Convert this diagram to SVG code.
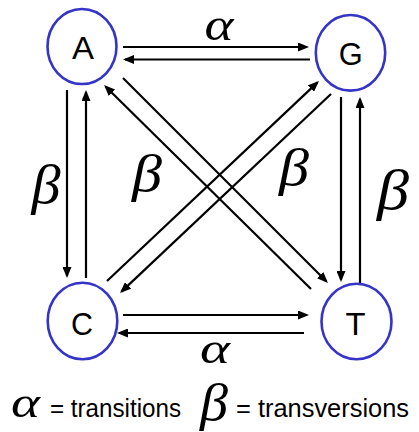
<svg xmlns="http://www.w3.org/2000/svg" width="419" height="432" viewBox="0 0 419 432">
<style>
.node{fill:#fff;stroke:#3434c8;stroke-width:2.6}
.lbl{font-family:"Liberation Sans",Arial,sans-serif;font-size:32px;fill:#000;text-anchor:middle}
.gk{font-family:"Liberation Serif","Times New Roman",serif;font-style:italic;fill:#000;text-anchor:middle}
.leg{font-family:"Liberation Sans",Arial,sans-serif;font-size:26px;fill:#000}
.c line{stroke:#000;stroke-width:2.2;fill:none}
.c line.a{marker-end:url(#ah)}
</style>
<defs>
<marker id="ah" markerUnits="userSpaceOnUse" markerWidth="11" markerHeight="9" refX="9" refY="4.5" orient="auto">
<path d="M0,0 L11,4.5 L0,9 z" fill="#000"/>
</marker>
</defs>
<rect width="419" height="432" fill="#fff"/>
<g class="c" id="connectors">
<line class="a" x1="123" y1="47" x2="307" y2="47"/>
<line class="a" x1="310" y1="59.5" x2="125" y2="59.5"/>
<line class="a" x1="67" y1="90" x2="67" y2="276"/>
<line class="a" x1="86" y1="278" x2="86" y2="92"/>
<line class="a" x1="341" y1="97" x2="341" y2="280"/>
<line class="a" x1="360" y1="284" x2="360" y2="99"/>
<line class="a" x1="123" y1="315" x2="307" y2="315"/>
<line class="a" x1="304" y1="333" x2="119" y2="333"/>
<line class="a" x1="123" y1="78" x2="326.5" y2="281.5"/>
<line class="a" x1="311" y1="289" x2="105.5" y2="86.5"/>
<line class="a" x1="107" y1="281" x2="317.5" y2="82.4"/>
<line class="a" x1="331" y1="94" x2="121.5" y2="291.6"/>
</g>
<g id="A"><ellipse class="node" cx="82" cy="46.5" rx="34.5" ry="37.5"/><text class="lbl" x="83" y="59" textLength="22" lengthAdjust="spacingAndGlyphs">A</text></g>
<g id="G"><ellipse class="node" cx="350.5" cy="52.8" rx="34.7" ry="37.8"/><text class="lbl" x="350.7" y="65" textLength="24" lengthAdjust="spacingAndGlyphs">G</text></g>
<g id="C"><ellipse class="node" cx="82.5" cy="321" rx="34.8" ry="38.3"/><text class="lbl" x="82" y="334.5" textLength="22" lengthAdjust="spacingAndGlyphs">C</text></g>
<g id="T"><ellipse class="node" cx="356.5" cy="321.5" rx="35" ry="37.8"/><text class="lbl" x="355.5" y="334.5" textLength="20" lengthAdjust="spacingAndGlyphs">T</text></g>
<g id="labels">
<text class="gk" x="219" y="40" font-size="46" textLength="29" lengthAdjust="spacingAndGlyphs">α</text>
<text class="gk" x="215" y="363" font-size="44" textLength="30" lengthAdjust="spacingAndGlyphs">α</text>
<text class="gk" x="46" y="203" font-size="54" textLength="29" lengthAdjust="spacingAndGlyphs">β</text>
<text class="gk" x="147" y="191" font-size="52" textLength="30" lengthAdjust="spacingAndGlyphs">β</text>
<text class="gk" x="294" y="185" font-size="52" textLength="30" lengthAdjust="spacingAndGlyphs">β</text>
<text class="gk" x="393" y="209" font-size="56" textLength="32" lengthAdjust="spacingAndGlyphs">β</text>
</g>
<g id="legend">
<text class="gk" x="25.5" y="416.5" font-size="44" textLength="29" lengthAdjust="spacingAndGlyphs">α</text>
<text class="leg" x="50" y="417" textLength="131" lengthAdjust="spacingAndGlyphs">= transitions</text>
<text class="gk" x="214" y="420" font-size="52" textLength="28" lengthAdjust="spacingAndGlyphs">β</text>
<text class="leg" x="236" y="417" textLength="173" lengthAdjust="spacingAndGlyphs">= transversions</text>
</g>
</svg>
